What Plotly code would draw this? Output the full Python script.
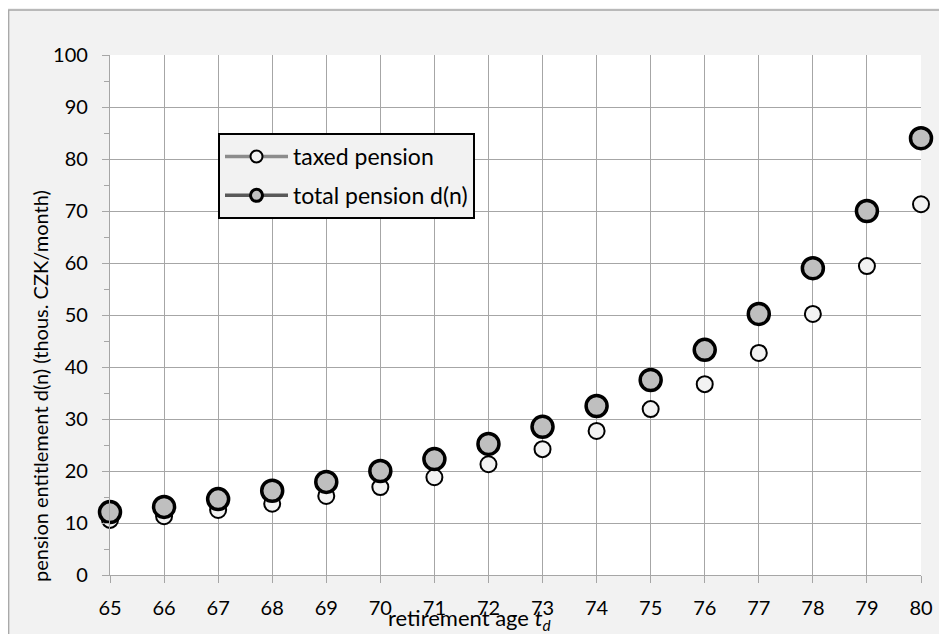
import plotly.graph_objects as go

ages = [65, 66, 67, 68, 69, 70, 71, 72, 73, 74, 75, 76, 77, 78, 79, 80]
taxed_pension = [10.6, 11.3, 12.5, 13.7, 15.2, 16.9, 18.8, 21.3, 24.2, 27.7, 31.9, 36.7, 42.7, 50.2, 59.4, 71.3]
total_pension = [12.1, 13.1, 14.6, 16.2, 17.9, 20.0, 22.3, 25.2, 28.5, 32.5, 37.5, 43.3, 50.2, 59.0, 70.0, 84.0]
series_names = ["taxed pension", "total pension d(n)"]
y_ticks = [0, 10, 20, 30, 40, 50, 60, 70, 80, 90, 100]

FONT = "Lato, Carlito, Calibri, sans-serif"
GRID = "#a6a6a6"

# page body has an 8px margin; the figure is placed at (8, 8)
W, H = 939, 626
ML, MR, MT, MB = 102, 26, 47, 59
PW, PH = W - ML - MR, H - MT - MB


def px(xp):  # page x pixel -> paper x
    return (xp - 8 - ML) / PW


def py(yp):  # page y pixel -> paper y
    return 1 - (yp - 8 - MT) / PH


fig = go.Figure()

fig.add_trace(go.Scatter(
    x=ages, y=taxed_pension, mode="markers", showlegend=False, cliponaxis=False,
    marker=dict(size=16, color="#f2f2f2", line=dict(color="black", width=2)),
))
fig.add_trace(go.Scatter(
    x=ages, y=total_pension, mode="markers", showlegend=False, cliponaxis=False,
    marker=dict(size=21, color="#bfbfbf", line=dict(color="black", width=3.5)),
))

fig.add_trace(go.Scatter(
    x=[None], y=[None], mode="lines+markers", name=series_names[0], legendgroup="a",
    line=dict(color="#8c8c8c", width=3.5),
    marker=dict(size=12, color="#f2f2f2", line=dict(color="black", width=2)),
))
fig.add_trace(go.Scatter(
    x=[None], y=[None], mode="lines+markers", name=series_names[1], legendgroup="b",
    line=dict(color="#595959", width=3.5),
    marker=dict(size=12, color="#bfbfbf", line=dict(color="black", width=3)),
))

fig.update_layout(
    width=W, height=H,
    margin=dict(l=ML, r=MR, t=MT, b=MB),
    paper_bgcolor="#f2f2f2",
    plot_bgcolor="white",
    font=dict(family=FONT, size=20, color="black"),
    showlegend=True,
    legend=dict(
        x=px(218), y=py(133), xanchor="left", yanchor="top",
        bgcolor="#f2f2f2", bordercolor="black", borderwidth=2,
        font=dict(family=FONT, size=23, color="black"),
        tracegroupgap=6, itemwidth=63,
    ),
    xaxis=dict(
        range=[65, 80], tickmode="array", tickvals=ages, ticktext=[str(a) for a in ages],
        showgrid=True, gridcolor=GRID, gridwidth=1.3,
        showline=True, linecolor=GRID, linewidth=1.3,
        ticks="outside", ticklen=7, tickcolor=GRID, tickwidth=1.3,
        ticklabelstandoff=8,
        zeroline=False, tickfont=dict(family=FONT, size=20, color="black"),
    ),
    yaxis=dict(
        range=[0, 100], tickmode="array", tickvals=y_ticks, ticktext=[str(v) for v in y_ticks],
        showgrid=True, gridcolor=GRID, gridwidth=1.3,
        showline=True, linecolor=GRID, linewidth=1.3,
        ticks="outside", ticklen=7, tickcolor=GRID, tickwidth=1.3,
        ticklabelstandoff=10,
        minor=dict(dtick=5, ticks="outside", ticklen=5, tickcolor=GRID, showgrid=False),
        zeroline=False, tickfont=dict(family=FONT, size=20, color="black"),
    ),
    shapes=[dict(
        type="rect", xref="paper", yref="paper",
        x0=px(8.7), x1=px(960), y0=py(660), y1=py(10),
        line=dict(color="#a6a6a6", width=1.3), fillcolor="rgba(0,0,0,0)", layer="below",
    )],
    annotations=[
        dict(
            text="retirement age <i>t</i><sub><i>d</i></sub>",
            xref="paper", yref="paper", x=px(469), y=py(619),
            xanchor="center", yanchor="middle", showarrow=False,
            font=dict(family=FONT, size=22, color="black"),
        ),
        dict(
            text="pension entitlement d(n) (thous. CZK/month)",
            xref="paper", yref="paper", x=px(40), y=py(386),
            xanchor="center", yanchor="middle", showarrow=False, textangle=-90,
            font=dict(family=FONT, size=20, color="black"),
        ),
    ],
)

fig.write_html("out.html")
